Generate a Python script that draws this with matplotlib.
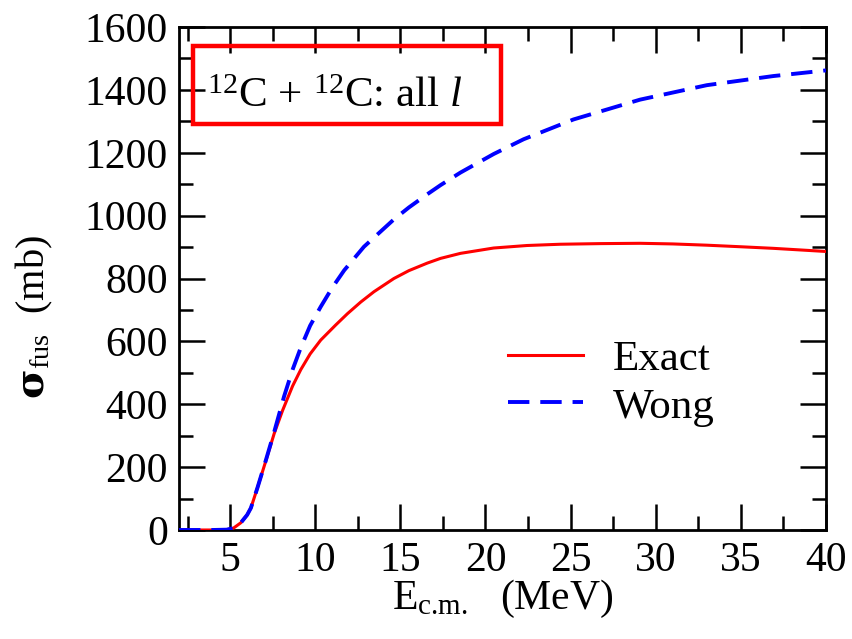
import matplotlib
matplotlib.use("Agg")
import matplotlib.pyplot as plt
from matplotlib.ticker import MultipleLocator
from matplotlib.patches import Rectangle

# ── DATA ─────────────────────────────────────────────────
e_exact = [2.0, 4.0, 4.8, 5.2, 5.63, 6.0, 6.22, 6.61, 7.1, 7.59, 8.08, 8.67,
           9.15, 9.7, 10.32, 11.2, 11.89, 12.67, 13.45, 14.62, 15.5, 16.58,
           17.36, 18.53, 20.48, 22.44, 24.39, 26.74, 29.08, 31.0, 33.0, 35.0,
           36.9, 40.0]
s_exact = [0, 0, 1, 6, 23, 48, 70, 135, 220, 307, 380, 458,
           510, 560, 604, 652, 688, 725, 758, 800, 825, 849,
           864, 880, 897, 905, 909, 911, 912, 910, 906, 901,
           896, 886]

e_wong = [2.0, 4.0, 4.8, 5.2, 5.63, 6.0, 6.22, 6.61, 7.1, 7.59, 8.17, 8.67,
          9.15, 9.7, 10.32, 11.0, 11.7, 12.86, 14.62, 15.5, 16.58, 17.36,
          18.53, 20.48, 22.24, 25.17, 29.08, 33.0, 36.9, 40.0]
s_wong = [0, 0, 1, 6, 23, 48, 70, 135, 222, 312, 425, 510,
          580, 650, 710, 771, 826, 901, 988, 1026, 1068, 1097,
          1137, 1196, 1243, 1306, 1369, 1415, 1444, 1462]

plt.rcParams["font.family"] = ["Liberation Serif", "DejaVu Serif"]
plt.rcParams["mathtext.fontset"] = "custom"
plt.rcParams["mathtext.rm"] = "Liberation Serif"
plt.rcParams["mathtext.it"] = "Liberation Serif:italic"
plt.rcParams["mathtext.bf"] = "DejaVu Serif:bold"

fig = plt.figure(figsize=(8.53, 6.39), dpi=100)
ax = fig.add_axes([0.2099, 0.1706, 0.7584, 0.7871])

ax.plot(e_exact, s_exact, color="#ff0000", lw=2.2, label="Exact", zorder=3)
ax.plot(e_wong, s_wong, color="#0000ff", lw=2.8, dashes=(5.5, 2.8),
        label="Wong", zorder=4)

ax.set_xlim(2, 40)
ax.set_ylim(0, 1600)
ax.xaxis.set_major_locator(MultipleLocator(5))
ax.xaxis.set_minor_locator(MultipleLocator(2.5))
ax.yaxis.set_major_locator(MultipleLocator(200))
ax.yaxis.set_minor_locator(MultipleLocator(100))
ax.tick_params(which="both", direction="in", top=True, right=True,
               width=1.8, labelsize=30)
ax.tick_params(which="major", length=19, pad=8)
ax.tick_params(which="minor", length=10)
for sp in ax.spines.values():
    sp.set_linewidth(2.0)

ax.set_xlabel(r"E$_{\text{c.m.}}$   (MeV)", fontsize=30, labelpad=-1)
ax.set_ylabel(r"$\mathbf{\sigma}_{\mathrm{fus}}$  (mb)", fontsize=29)
ax.yaxis.set_label_coords(-0.192, 0.424)

# label box
ax.add_patch(Rectangle((0.022, 0.807), 0.475, 0.155, transform=ax.transAxes,
                       fill=False, edgecolor="#ff0000", lw=3.2, zorder=5))
ax.text(0.043, 0.862, r"$^{12}$C + $^{12}$C: all $l$", transform=ax.transAxes,
        fontsize=31, va="center", ha="left")

ax.legend(loc="center left", bbox_to_anchor=(0.508, 0.292), frameon=False,
          fontsize=31, handlelength=1.75, handletextpad=0.7, labelspacing=0.2,
          borderpad=0, borderaxespad=0)

fig.savefig("out.png", dpi=100)
